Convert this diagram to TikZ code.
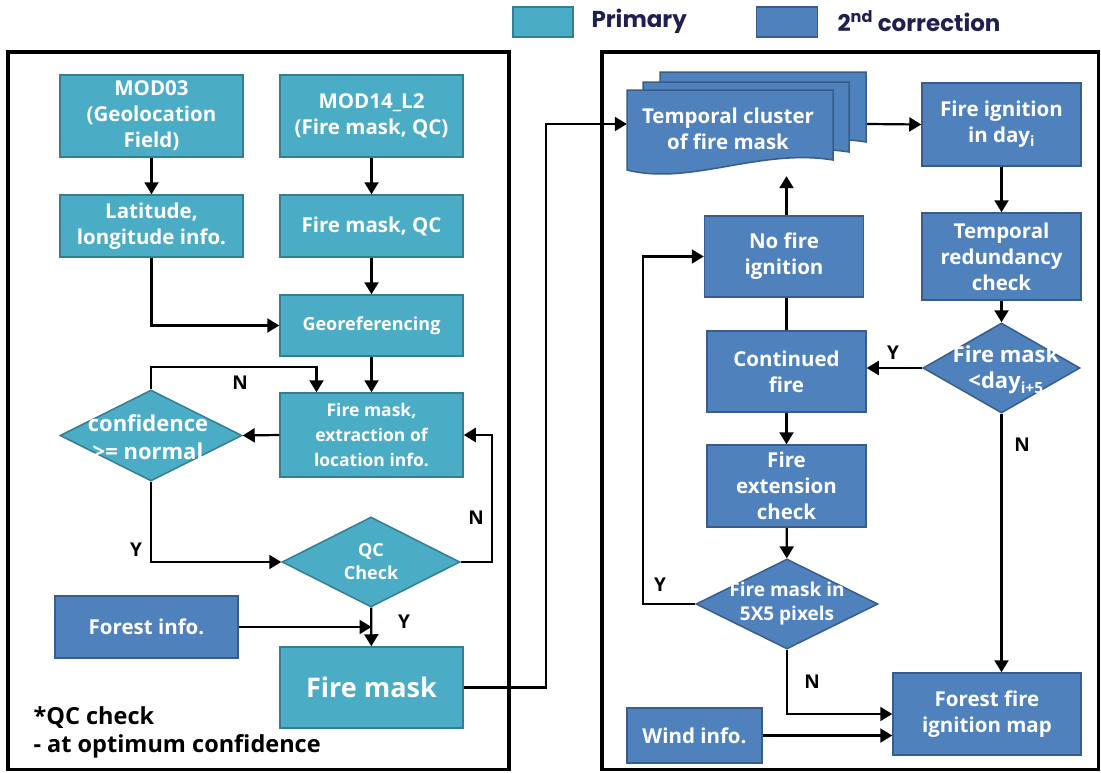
\documentclass[tikz,border=0pt]{standalone}
\usepackage{fontspec}
\setmainfont{Open Sans}
\newfontfamily\legfont{Poppins}
\usetikzlibrary{arrows.meta,positioning,shapes.geometric}
\definecolor{primary}{HTML}{4BACC6}
\definecolor{primaryline}{HTML}{357D91}
\definecolor{second}{HTML}{4F81BD}
\definecolor{secondline}{HTML}{385D8A}
\definecolor{legendtext}{HTML}{1F2050}

\tikzset{
  box/.style={rectangle, line width=1.5pt, text=white, align=center, inner sep=0pt,
    font=\bfseries\fontsize{20.5}{26}\selectfont},
  pbox/.style={box, fill=primary, draw=primaryline},
  sbox/.style={box, fill=second, draw=secondline},
  pdia/.style={diamond, fill=primary, draw=primaryline, line width=1.5pt, inner sep=0pt},
  sdia/.style={diamond, fill=second, draw=secondline, line width=1.5pt, inner sep=0pt},
  diatext/.style={text=white, align=center, font=\bfseries\fontsize{20.5}{26}\selectfont},
  flow/.style={line width=2.2pt, -{Triangle[length=12pt,width=14pt]}},
  yn/.style={font=\bfseries\fontsize{19}{19}\selectfont},
  frame/.style={line width=3.2pt},
  legend/.style={anchor=west, text=legendtext, font=\legfont\bfseries\fontsize{23}{23}\selectfont}
}

\begin{document}
\begin{tikzpicture}[x=1pt,y=-1pt]
  \useasboundingbox (0,0) rectangle (1101,772);

  % legend
  \node[pbox, minimum width=60pt, minimum height=30pt] (legp) at (543,22) {};
  \node[legend] (legptxt) at (588,21) {Primary};
  \node[sbox, minimum width=61pt, minimum height=30pt] (legs) at (787,22) {};
  \node[legend] (legstxt) at (834,21) {2\textsuperscript{nd} correction};

  % panels
  \draw[frame] (8,52) rectangle (509,769.5);
  \draw[frame] (602,52) rectangle (1098.5,769.5);

  % primary processing
  \node[pbox, minimum width=183pt, minimum height=82pt] (mod03) at (151.5,116) {MOD03\\(Geolocation\\Field)};
  \node[pbox, minimum width=183pt, minimum height=82pt] (mod14) at (371.5,116) {MOD14\_L2\\(Fire mask, QC)};
  \node[pbox, minimum width=183pt, minimum height=62pt] (lat) at (151.5,226) {Latitude,\\longitude info.};
  \node[pbox, minimum width=183pt, minimum height=62pt] (fmqc) at (371.5,226) {Fire mask, QC};
  \node[pbox, minimum width=183pt, minimum height=61pt, font=\bfseries\fontsize{18}{25}\selectfont] (geo) at (371.5,325.5) {Georeferencing};
  \node[pbox, minimum width=183pt, minimum height=84pt, font=\bfseries\fontsize{17.5}{25}\selectfont] (ext) at (371.5,435) {Fire mask,\\extraction of\\location info.};
  \node[pdia, minimum width=182pt, minimum height=91pt] (conf) at (151,435.5) {};
  \node[diatext, font=\bfseries\fontsize{22}{28}\selectfont] (conftxt) at (148,437) {confidence\\>= normal};
  \node[pdia, minimum width=178pt, minimum height=90pt] (qc) at (371,562) {};
  \node[diatext, font=\bfseries\fontsize{18}{23}\selectfont] (qctxt) at (371,562) {QC\\Check};
  \node[sbox, minimum width=183pt, minimum height=62pt] (forest) at (146.5,627) {Forest info.};
  \node[pbox, minimum width=183pt, minimum height=81pt, font=\bfseries\fontsize{27}{30}\selectfont] (fm) at (371.5,687.5) {Fire mask};
  \node[anchor=west, align=left, font=\bfseries\fontsize{23.5}{28}\selectfont] (note) at (30,732) {*QC check\\- at optimum confidence};

  \draw[flow] (mod03) -- (lat);
  \draw[flow] (mod14) -- (fmqc);
  \draw[flow] (lat.south) |- (geo.west);
  \draw[flow] (fmqc) -- (geo);
  \draw[flow] (geo) -- (ext);
  \draw[flow] (ext.west) -- (conf.east);
  \draw[flow] (conf.north) -- ++(0,-22) -| ([xshift=-55pt]ext.north);
  \draw[flow] (conf.south) |- (qc.west);
  \draw[flow] (qc.east) -- ++(31,0) |- (ext.east);
  \draw[flow] (qc) -- (fm);
  \draw[flow] (forest.east) -- (forest.east -| fm.north);
  \node[yn] (n1) at (240,383) {N};
  \node[yn] (y1) at (136,550) {Y};
  \node[yn] (n2) at (476,518) {N};
  \node[yn] (y2) at (404,622) {Y};

  % second correction
  \node (clu) at (747,124) [minimum width=240pt, minimum height=104pt, inner sep=0pt] {};
  \foreach \dx/\dy in {33/-18,16/-8,0/0}
    \draw[fill=second, draw=secondline, line width=1.5pt, shift={(\dx,\dy)}]
      (627,90) -- (833,90) -- (833,160) .. controls (760,148) and (690,186) .. (627,170) -- cycle;
  \node[diatext] (clutxt) at (728,129) {Temporal cluster\\of fire mask};

  \node[sbox, minimum width=159pt, minimum height=83pt] (ign) at (1001.5,124.5) {Fire ignition\\in day\textsubscript{i}};
  \node[sbox, minimum width=159pt, minimum height=87pt] (red) at (1001.5,256.5) {Temporal\\redundancy\\check};
  \node[sdia, minimum width=157pt, minimum height=90pt] (day) at (1001.5,368) {};
  \node[diatext, font=\bfseries\fontsize{22}{26}\selectfont] (daytxt) at (1006,370) {Fire mask\\<day\textsubscript{i+5}};
  \node[sbox, minimum width=159pt, minimum height=81pt] (nofire) at (784,256.5) {No fire\\ignition};
  \node[sbox, minimum width=159pt, minimum height=81pt] (cont) at (786.5,371.5) {Continued\\fire};
  \node[sbox, minimum width=159pt, minimum height=82pt] (extc) at (786.5,486) {Fire\\extension\\check};
  \node[sdia, minimum width=182pt, minimum height=90pt] (pix) at (787,604) {};
  \node[diatext, font=\bfseries\fontsize{19}{24}\selectfont] (pixtxt) at (787,604) {Fire mask in\\5X5 pixels};
  \node[sbox, minimum width=188pt, minimum height=82pt] (map) at (987,714) {Forest fire\\ignition map};
  \node[sbox, minimum width=135pt, minimum height=55pt] (wind) at (694.5,735.5) {Wind info.};

  \draw[flow] (fm.east) -- ++(82,0) |- (clu.west);
  \draw[flow] (clu.east) -- (ign.west);
  \draw[flow] (ign) -- (red);
  \draw[flow] (red) -- (day);
  \draw[flow] (day.west) -- (day.west -| cont.east);
  \draw[flow] (day.south) -- (day.south |- map.north);
  \draw[line width=2.2pt] (cont.north) -- (cont.north |- nofire.south);
  \draw[flow] (cont.north |- nofire.north) -- (cont.north |- clu.south);
  \draw[flow] (cont) -- (extc);
  \draw[flow] (extc) -- (pix);
  \draw[flow] (pix.west) -- ++(-52,0) |- (nofire.west);
  \draw[flow] (pix.south) |- (map.west);
  \draw[flow] (wind.east) -- (wind.east -| map.west);
  \node[yn] (y3) at (893,353) {Y};
  \node[yn] (n3) at (1022,445) {N};
  \node[yn] (y4) at (660,585) {Y};
  \node[yn] (n4) at (812,682) {N};
\end{tikzpicture}
\end{document}
